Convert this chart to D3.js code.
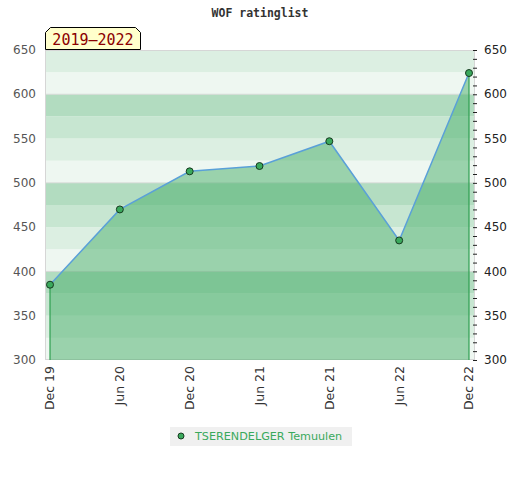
<!DOCTYPE html>
<html><head><meta charset="utf-8">
<script src="https://cdn.jsdelivr.net/npm/d3@7"></script>
<style>body{margin:0;background:#fff}svg{display:block}</style>
</head><body>
<svg id="c" width="520" height="480"></svg>
<script>
const dates = ["Dec 19","Jun 20","Dec 20","Jun 21","Dec 21","Jun 22","Dec 22"];
const ratings = [385, 470, 513, 519, 547, 435, 624];
const yTicks = [300, 350, 400, 450, 500, 550, 600, 650];
const seriesName = "TSERENDELGER Temuulen";
const periodLabel = "2019\u20132022";
const title = "WOF ratinglist";

const svg = d3.select("#c");
const plot = {l:45, r:475, t:50, b:360};
const y = d3.scaleLinear().domain([300,650]).range([plot.b, plot.t]);
const x = d3.scaleLinear().domain([0, dates.length-1]).range([50, 469]);

// bands
const bandCols = ["#eef7f1","#dcefe2","#c7e6d1","#b2dcc0"];
const bands = d3.range(300, 650, 25);
svg.append("g").selectAll("rect").data(bands).join("rect")
  .attr("x", plot.l).attr("width", plot.r-plot.l)
  .attr("y", d=>y(d+25)).attr("height", d=>y(d)-y(d+25))
  .attr("fill", d=>bandCols[((d-300)/25)%4]);
// gridlines each 100
svg.append("g").selectAll("line").data([400,500,600]).join("line")
  .attr("x1", plot.l).attr("x2", plot.r).attr("y1", d=>y(d)).attr("y2", d=>y(d))
  .attr("stroke", "#d4d9d5").attr("stroke-width", 1);
svg.append("rect").attr("x", plot.l+0.5).attr("y", plot.t+0.5)
  .attr("width", plot.r-plot.l-1).attr("height", plot.b-plot.t-1)
  .attr("fill","none").attr("stroke","#d6d6d6");

// area
const idx = d3.range(ratings.length);
const area = d3.area().x(i=>x(i)).y0(y(300)).y1(i=>y(ratings[i]));
svg.append("path").attr("d", area(idx)).attr("fill", "#4cb06e").attr("fill-opacity", 0.52);
// end verticals
svg.append("g").selectAll("line").data([0, ratings.length-1]).join("line")
  .attr("x1", i=>x(i)).attr("x2", i=>x(i)).attr("y1", i=>y(ratings[i])).attr("y2", y(300))
  .attr("stroke", "#2e9e50").attr("stroke-width", 1.2);
// line
const line = d3.line().x(i=>x(i)).y(i=>y(ratings[i]));
svg.append("path").attr("d", line(idx)).attr("fill","none").attr("stroke","#5aa0d8").attr("stroke-width",1.5);
// points
svg.append("g").selectAll("circle").data(idx).join("circle")
  .attr("cx", i=>x(i)).attr("cy", i=>y(ratings[i])).attr("r", 3.5)
  .attr("fill", "#3aa95c").attr("stroke", "#173a20").attr("stroke-width", 1);

// left labels
svg.append("g").selectAll("text").data(yTicks).join("text")
  .attr("x", 36).attr("y", d=>y(d)).attr("dy", "0.35em").attr("text-anchor","end")
  .attr("font-family","DejaVu Sans, sans-serif").attr("font-size", 12).attr("fill","#555")
  .text(d=>d);
// right axis
const rAxis = d3.axisRight(y).tickValues(d3.range(300, 651, 10)).tickSize(4).tickFormat("");
const rg = svg.append("g").attr("transform", `translate(${plot.r-2},0)`).call(rAxis);
rg.select(".domain").remove();
rg.selectAll("line").attr("stroke","#222");
svg.append("g").selectAll("text").data(yTicks).join("text")
  .attr("x", 484).attr("y", d=>y(d)).attr("dy", "0.35em")
  .attr("font-family","DejaVu Sans, sans-serif").attr("font-size", 12).attr("fill","#222")
  .text(d=>d);
// x labels
svg.append("g").selectAll("text").data(idx).join("text")
  .attr("transform", i=>`translate(${x(i)},366) rotate(-90)`)
  .attr("dy","0.35em").attr("text-anchor","end")
  .attr("font-family","DejaVu Sans, sans-serif").attr("font-size", 12.5).attr("fill","#333")
  .text(i=>dates[i]);

// title
svg.append("text").attr("x", 260).attr("y", 17).attr("text-anchor","middle")
  .attr("font-family","DejaVu Sans Mono, monospace").attr("font-weight","bold").attr("font-size", 11.5).attr("fill","#333")
  .text(title);

// period label box
const bx=45.5, by=27.5, bw=95, bh=22, c=5;
svg.append("path").attr("d", `M${bx},${by+bh} L${bx},${by+c} L${bx+c},${by} L${bx+bw-c},${by} L${bx+bw},${by+c} L${bx+bw},${by+bh} Z`)
  .attr("fill","#ffffcc").attr("stroke","#000").attr("stroke-width",1);
svg.append("text").attr("x", bx+bw/2).attr("y", by+17).attr("text-anchor","middle")
  .attr("font-family","DejaVu Sans Mono, monospace").attr("font-size", 15).attr("fill","#8b0000")
  .text(periodLabel);

// legend
svg.append("rect").attr("x",170).attr("y",427).attr("width",182).attr("height",19).attr("fill","#f0f0f0");
svg.append("circle").attr("cx",181).attr("cy",436).attr("r",3).attr("fill","#3aa95c").attr("stroke","#173a20");
svg.append("text").attr("x",195).attr("y",436).attr("dy","0.35em")
  .attr("font-family","DejaVu Sans, sans-serif").attr("font-size",11.2).attr("fill","#3aa95c")
  .text(seriesName);
</script>
</body></html>
